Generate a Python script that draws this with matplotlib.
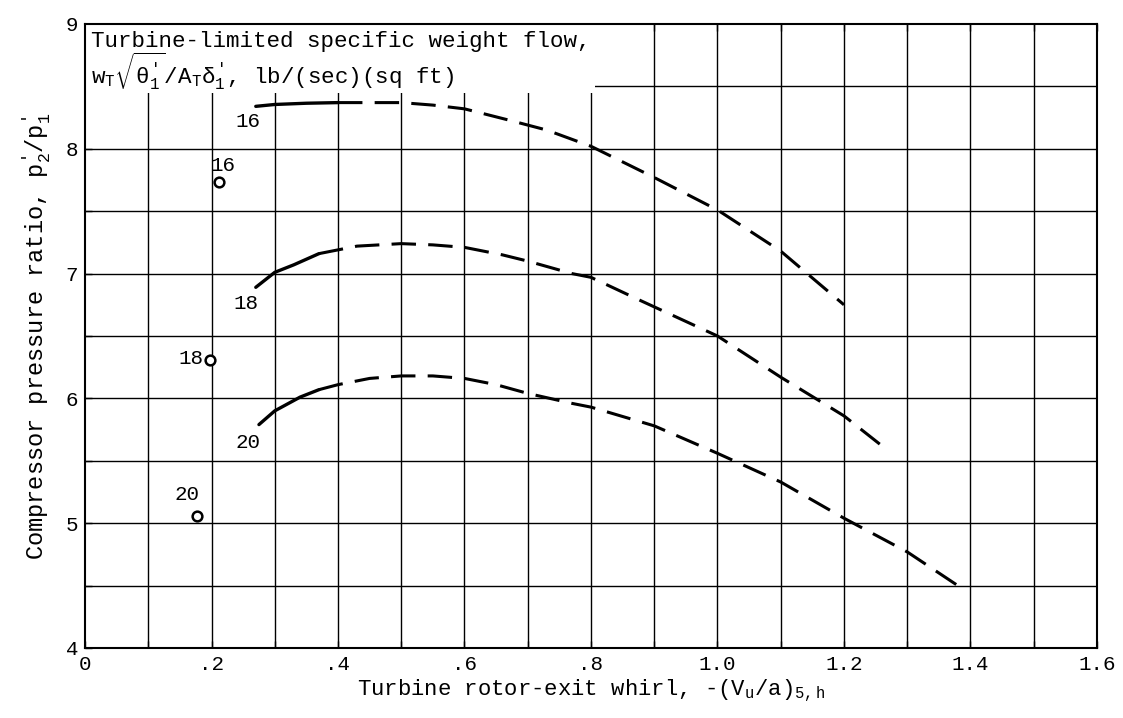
import matplotlib
matplotlib.use("Agg")
import matplotlib.pyplot as plt
from matplotlib.patches import Rectangle
import numpy as np

plt.rcParams['font.family'] = ['Liberation Mono', 'DejaVu Sans']
plt.rcParams['mathtext.fontset'] = 'custom'
plt.rcParams['mathtext.rm'] = 'Liberation Mono'
plt.rcParams['mathtext.it'] = 'Liberation Mono'
plt.rcParams['mathtext.bf'] = 'Liberation Mono:bold'

# ---- data ----
x16 = [0.27, 0.30, 0.35, 0.40, 0.45, 0.50, 0.55, 0.60, 0.67, 0.73, 0.80, 0.90, 1.00, 1.10, 1.20]
y16 = [8.34, 8.355, 8.365, 8.37, 8.37, 8.37, 8.35, 8.32, 8.23, 8.15, 8.02, 7.77, 7.51, 7.18, 6.75]
x18 = [0.27, 0.30, 0.33, 0.37, 0.40, 0.43, 0.50, 0.55, 0.60, 0.66, 0.70, 0.77, 0.80, 0.88, 1.00, 1.10, 1.20, 1.26]
y18 = [6.89, 7.01, 7.07, 7.16, 7.19, 7.22, 7.24, 7.23, 7.21, 7.15, 7.10, 7.00, 6.97, 6.78, 6.50, 6.17, 5.86, 5.62]
x20 = [0.275, 0.30, 0.34, 0.37, 0.40, 0.45, 0.50, 0.55, 0.60, 0.65, 0.70, 0.77, 0.80, 0.90, 1.00, 1.10, 1.20, 1.30, 1.38]
y20 = [5.79, 5.90, 6.01, 6.07, 6.11, 6.16, 6.18, 6.18, 6.16, 6.11, 6.04, 5.96, 5.93, 5.78, 5.56, 5.33, 5.04, 4.77, 4.50]
solid_end = {"16": 0.40, "18": 0.37, "20": 0.37}

curve_labels = ["16", "18", "20"]
curve_label_x = [0.258, 0.255, 0.258]
curve_label_y = [8.22, 6.76, 5.65]

point_x = [0.212, 0.198, 0.177]
point_y = [7.73, 6.31, 5.06]
point_labels = ["16", "18", "20"]
point_label_x = [0.198, 0.188, 0.162]
point_label_y = [7.87, 6.32, 5.23]

xtick_vals = [0, 0.2, 0.4, 0.6, 0.8, 1.0, 1.2, 1.4, 1.6]
xtick_labels = ["0", ".2", ".4", ".6", ".8", "1.0", "1.2", "1.4", "1.6"]
ytick_vals = [4, 5, 6, 7, 8, 9]

FS = 15

fig = plt.figure(figsize=(11.23, 7.18), dpi=100)
ax = fig.add_axes([0.0757, 0.0975, 0.9011, 0.8691])
ax.set_xlim(0, 1.6)
ax.set_ylim(4, 9)

# grid
for gx in np.arange(0.1, 1.6, 0.1):
    ax.axvline(gx, color='black', lw=1.0, zorder=1)
for gy in np.arange(4.5, 9.0, 0.5):
    ax.axhline(gy, color='black', lw=1.0, zorder=1)

# white label box
ax.add_patch(Rectangle((0, 8.45), 0.807, 0.56, facecolor='white', edgecolor='none', zorder=2))

def draw_curve(xs, ys, xs_end):
    xs = np.array(xs); ys = np.array(ys)
    m = xs <= xs_end + 1e-9
    ax.plot(xs[m], ys[m], color='black', lw=2.4, solid_capstyle='round', zorder=3)
    k = np.where(m)[0][-1]
    ax.plot(xs[k:], ys[k:], color='black', lw=2.2, dashes=(8, 4), zorder=3)

draw_curve(x16, y16, solid_end["16"])
draw_curve(x18, y18, solid_end["18"])
draw_curve(x20, y20, solid_end["20"])

for lab, lx, ly in zip(curve_labels, curve_label_x, curve_label_y):
    ax.text(lx, ly, lab, fontsize=FS, ha='center', va='center', zorder=4)

ax.plot(point_x, point_y, 'o', mfc='white', mec='black', ms=7, mew=1.8, zorder=4)
for lab, lx, ly, ha in zip(point_labels, point_label_x, point_label_y, ['left', 'right', 'center']):
    ax.text(lx, ly, lab, fontsize=FS, ha=ha, va='center', zorder=4)

ax.text(0.01, 8.86, "Turbine-limited specific weight flow,", fontsize=16.2,
        ha='left', va='center', zorder=4)
ax.text(0.01, 8.62, r"w$_\mathrm{T}\sqrt{\theta_1'}$/A$_\mathrm{T}\delta_1'$, lb/(sec)(sq ft)",
        fontsize=16.2, ha='left', va='center', zorder=4)

ax.set_xticks(xtick_vals)
ax.set_xticklabels(xtick_labels)
ax.set_xticks(np.arange(0.1, 1.6, 0.2), minor=True)
ax.set_yticks(ytick_vals)
ax.set_yticks(np.arange(4.5, 9.0, 1.0), minor=True)
ax.tick_params(which='both', direction='in', top=True, right=False, labelsize=FS, length=5, width=1)
ax.tick_params(axis='x', pad=5)
ax.tick_params(axis='y', pad=5)
for s in ax.spines.values():
    s.set_linewidth(1.5)
    s.set_zorder(5)

ax.set_xlabel(r"Turbine rotor-exit whirl, -(V$_\mathrm{u}$/a)$_\mathrm{5,h}$", fontsize=16, labelpad=2)
ax.set_ylabel(r"Compressor pressure ratio, p$_\mathrm{2}'$/p$_\mathrm{1}'$", fontsize=17, labelpad=9)

fig.savefig("out.png", dpi=100)
